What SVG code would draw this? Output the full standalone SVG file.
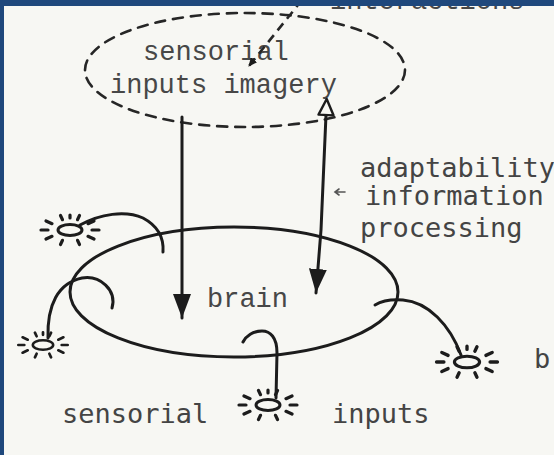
<svg xmlns="http://www.w3.org/2000/svg" width="554" height="455" viewBox="0 0 554 455">
<style>
.bg{fill:#f7f7f3}
.frame{fill:#1f487c}
.ink{fill:none;stroke:#1c1c1c;stroke-width:3;stroke-linecap:round;stroke-linejoin:round}
.dash{fill:none;stroke:#262626;stroke-width:2.6;stroke-dasharray:10 8;stroke-linecap:round}
.tw{font-family:"Liberation Mono","Courier New",monospace;font-size:27px;fill:#474747}
.lg{font-family:"DejaVu Sans Mono","Liberation Mono",monospace;font-size:27px;fill:#444}
.ray{stroke:#1c1c1c;stroke-width:3.2;stroke-linecap:round}
</style>
<defs>
<marker id="headFill" viewBox="0 0 24 18" refX="24" refY="9" markerWidth="24" markerHeight="18" markerUnits="userSpaceOnUse" orient="auto">
<path d="M0,0 L24,9 L0,18 z" fill="#1c1c1c"/>
</marker>
<marker id="headOpen" viewBox="-2 -2 21 19" refX="0" refY="7.5" markerWidth="21" markerHeight="19" markerUnits="userSpaceOnUse" orient="auto-start-reverse">
<path d="M0,0 L16,7.5 L0,15 z" fill="#f7f7f3" stroke="#1c1c1c" stroke-width="2.4" stroke-linejoin="round"/>
</marker>
<marker id="headSmall" viewBox="0 0 9 8" refX="8" refY="4" markerWidth="9" markerHeight="8" markerUnits="userSpaceOnUse" orient="auto">
<path d="M0,0 L9,4 L0,8 z" fill="#1c1c1c"/>
</marker>
<g id="sun">
<ellipse cx="0" cy="0" rx="12" ry="5.5" fill="none" stroke="#1c1c1c" stroke-width="3"/>
<path class="ray" d="M22,0 L29,0 M18,6.3 L24,9 M7.5,10.3 L9.5,14.5 M-7.5,10.3 L-9.5,14.5 M-18,6.3 L-24,9 M-22,0 L-29,0 M-18,-6.3 L-24,-9 M-7.5,-10.3 L-9.5,-14.5 M0,-12 L0,-15 M7.5,-10.3 L9.5,-14.5 M18,-6.3 L24,-9"/>
</g>
</defs>
<rect class="bg" x="0" y="0" width="554" height="455"/>

<text class="tw" x="330" y="9">interactions</text>

<g id="imagery">
<ellipse class="dash" cx="245" cy="70" rx="160" ry="57"/>
<text class="tw" x="143" y="60">sensorial</text>
<text class="tw" x="110" y="93">inputs imagery</text>
</g>

<g id="brain">
<ellipse class="ink" cx="234" cy="292" rx="164" ry="65"/>
<text class="tw" x="207" y="307">brain</text>
</g>

<g id="sun1"><use href="#sun" transform="translate(70,230)"/></g>
<g id="sun2"><use href="#sun" transform="translate(43,345) scale(0.85)"/></g>
<g id="sun3"><use href="#sun" transform="translate(268,405)"/></g>
<g id="sun4"><use href="#sun" transform="translate(467,362) scale(1.05)"/></g>

<g id="labels">
<text class="lg" x="360" y="177">adaptability</text>
<text class="lg" x="365" y="205">information</text>
<text class="lg" x="360" y="237">processing</text>
<text class="lg" x="62" y="423">sensorial</text>
<text class="lg" x="332" y="423">inputs</text>
<text class="lg" x="534" y="368">br</text>
</g>

<g id="connectors">
<path d="M302,0 L249,66" fill="none" stroke="#262626" stroke-width="2.6" stroke-dasharray="9 6" marker-end="url(#headSmall)"/>
<path class="ink" d="M182,117 L182,318" marker-end="url(#headFill)"/>
<path class="ink" d="M326,115 L321,230 L316,293" marker-start="url(#headOpen)" marker-end="url(#headFill)"/>
<path d="M345,192 L335,192 M339,189 L335,192 L339,195" fill="none" stroke="#555" stroke-width="1.6" stroke-linecap="round"/>
<path class="ink" d="M80,225 C100,214 125,210 143,218 C158,226 164,238 163,252"/>
<path class="ink" d="M48,338 C47,305 58,283 82,278 C100,275 117,290 112,308"/>
<path class="ink" d="M276,398 L277,353 C277,337 270,331 262,331 C253,331 246,336 243,342"/>
<path class="ink" d="M461,355 C450,325 428,302 403,300 C390,299 380,302 375,305"/>
</g>

<rect class="frame" x="0" y="0" width="554" height="6"/>
<rect class="frame" x="0" y="0" width="4" height="455"/>
</svg>
